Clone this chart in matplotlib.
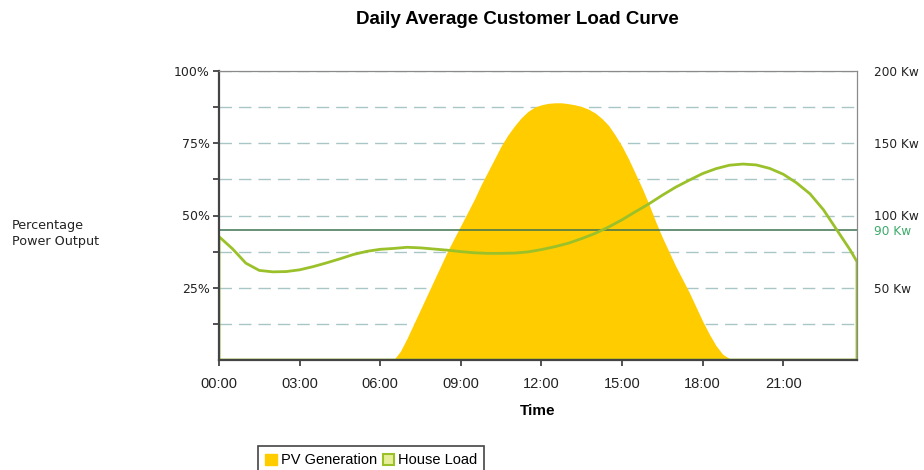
import matplotlib.pyplot as plt
from matplotlib.patches import Patch
import numpy as np

# house load, half-hour samples of the average day
hours = np.arange(0, 24, 0.5)
hours = np.append(hours, 23.75)

house_load = [42.7, 38.5, 33.5, 31.0, 30.5, 30.6, 31.2, 32.3, 33.6, 35.0,
              36.5, 37.6, 38.3, 38.6, 39.0, 38.8, 38.4, 38.0, 37.5, 37.1,
              36.9, 36.9, 37.0, 37.4, 38.2, 39.2, 40.4, 42.0, 43.8, 46.0,
              48.5, 51.3, 54.0, 57.0, 59.8, 62.2, 64.5, 66.2, 67.4, 67.8,
              67.5, 66.3, 64.3, 61.3, 57.5, 52.0, 45.0, 38.0, 34.0]

# PV output, quarter-hour samples between sunrise and sunset
pv_hours = np.arange(6.5, 19.5, 0.25)
pv_generation = [0, 3, 7.5, 12.5, 17.5, 22.5, 27.5, 32.5, 37.5, 42,
                 46.5, 51, 55.5, 60.5, 65, 69.5, 74, 77.8, 81, 83.8,
                 86, 87.5, 88.3, 88.8, 89, 89, 88.7, 88.3, 87.7, 86.8,
                 85.5, 83.6, 81.2, 77.8, 74, 69.5, 64.5, 59.5, 54, 48,
                 42.5, 37.5, 32.5, 28, 23.5, 18.5, 13.5, 9, 5, 2,
                 0.5, 0]

threshold_kw = 90
kw_max = 200
time_ticks = [0, 3, 6, 9, 12, 15, 18, 21]
time_labels = ['00:00', '03:00', '06:00', '09:00', '12:00', '15:00', '18:00', '21:00']
pct_ticks = [25, 50, 75, 100]
kw_ticks = [50, 90, 100, 150, 200]

pv_color = '#FFCC00'
load_color = '#9AC12A'
limit_color = '#3F7352'

fig = plt.figure(figsize=(9.24, 4.70), dpi=100)
ax = fig.add_axes([219 / 924, 110 / 470, 638 / 924, 289 / 470])

ax.fill_between(pv_hours, pv_generation, color=pv_color, lw=0, zorder=1)
ax.axhline(threshold_kw / kw_max * 100, color=limit_color, lw=1.1, zorder=1.5)
ax.fill_between(hours, house_load, facecolor='none', edgecolor=load_color,
                lw=2, zorder=2)

ax.set_xlim(0, 23.75)
ax.set_ylim(0, 100)
ax.set_xticks(time_ticks)
ax.set_xticklabels(time_labels, fontfamily='Liberation Sans', fontsize=10.5)
ax.set_yticks(pct_ticks)
ax.set_yticklabels([f'{p}%' for p in pct_ticks], fontsize=9)
ax.set_yticks(np.arange(12.5, 100, 25), minor=True)
ax.tick_params(axis='both', which='both', length=4.5, width=1.2, color='#333333',
               labelcolor='#222222')
ax.tick_params(axis='x', pad=8)
ax.tick_params(axis='y', pad=2)

ax.set_axisbelow(True)
ax.grid(axis='y', which='both', color='#A9C6C6', lw=1, ls=(0, (9, 5)))

for side in ['left', 'bottom']:
    ax.spines[side].set_color('#444444')
    ax.spines[side].set_linewidth(1.6)
for side in ['top', 'right']:
    ax.spines[side].set_color('#8a8a8a')
    ax.spines[side].set_linewidth(0.9)

ax.set_xlabel('Time', fontfamily='Liberation Sans', fontweight='bold',
              fontsize=11, labelpad=9)

# kW scale on the right
ax2 = ax.twinx()
ax2.set_ylim(0, kw_max)
ax2.set_yticks(kw_ticks)
ax2.set_yticklabels([f'{k} Kw' for k in kw_ticks], fontsize=8.7)
ax2.tick_params(axis='y', length=0, pad=12, labelcolor='#222222')
ax2.get_yticklabels()[1].set_color('#3DAA6A')
for s in ax2.spines.values():
    s.set_visible(False)

fig.text(517 / 924, 1 - 20 / 470, 'Daily Average Customer Load Curve',
         ha='center', va='center', fontfamily='Liberation Sans',
         fontweight='bold', fontsize=13.5)
fig.text(12 / 924, 1 - 234 / 470, 'Percentage\nPower Output', ha='left',
         va='center', fontsize=9.2, linespacing=1.3, color='#222222')

handles = [Patch(facecolor=pv_color, edgecolor=pv_color),
           Patch(facecolor='#E6EE9A', edgecolor=load_color, lw=1.5)]
leg = fig.legend(handles, ['PV Generation', 'House Load'],
                 loc='upper left', bbox_to_anchor=(258 / 924, 1 - 446 / 470),
                 ncol=2, fancybox=False, framealpha=1, edgecolor='#444444',
                 prop={'family': 'Liberation Sans', 'size': 10.5},
                 handlelength=0.8, handleheight=0.8, handletextpad=0.25,
                 columnspacing=0.4, borderpad=0.5, borderaxespad=0)
leg.get_frame().set_linewidth(1.2)

fig.savefig('out.png', dpi=100)
